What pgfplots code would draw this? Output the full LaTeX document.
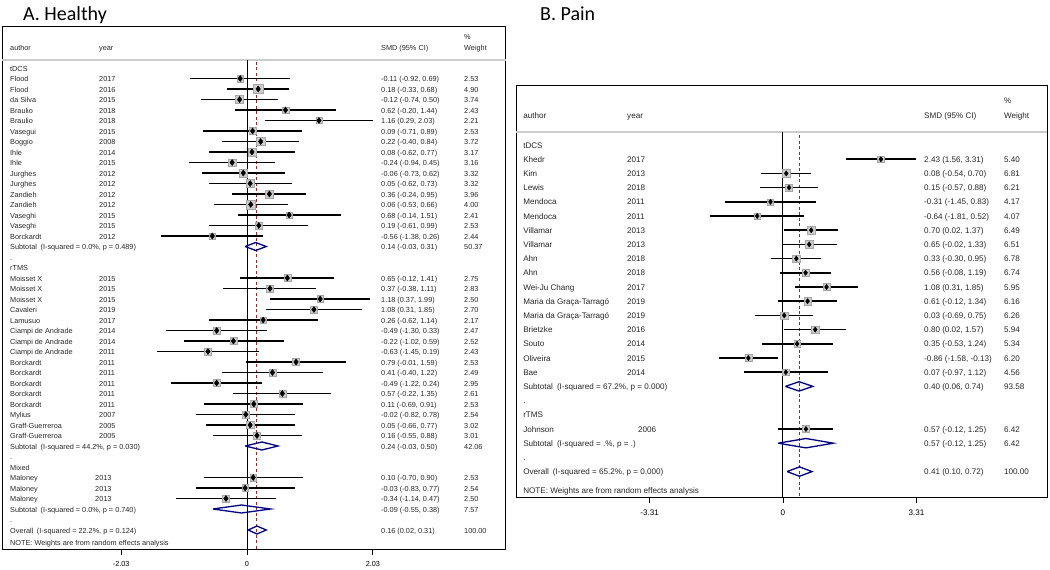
\documentclass[border=0pt]{standalone}
\usepackage{fontspec}
\setmainfont{Liberation Sans}
\newfontfamily\titlefont{Carlito}
\usepackage{pgfplots}
\pgfplotsset{compat=1.18}
\usepackage{pgfplotstable}

\definecolor{navy}{RGB}{0,0,128}
\definecolor{refred}{RGB}{165,35,35}
\newcommand{\fA}{\fontsize{7.3}{8.5}\selectfont}
\newcommand{\fB}{\fontsize{8.1}{9.5}\selectfont}

% Panel A: row, estimate, lower, upper, weight
\pgfplotstableread{
row est lo hi w
2 -0.11 -0.92 0.69 2.53
3 0.18 -0.33 0.68 4.90
4 -0.12 -0.74 0.50 3.74
5 0.62 -0.20 1.44 2.43
6 1.16 0.29 2.03 2.21
7 0.09 -0.71 0.89 2.53
8 0.22 -0.40 0.84 3.72
9 0.08 -0.62 0.77 3.17
10 -0.24 -0.94 0.45 3.16
11 -0.06 -0.73 0.62 3.32
12 0.05 -0.62 0.73 3.32
13 0.36 -0.24 0.95 3.96
14 0.06 -0.53 0.66 4.00
15 0.68 -0.14 1.51 2.41
16 0.19 -0.61 0.99 2.53
17 -0.56 -1.38 0.26 2.44
21 0.65 -0.12 1.41 2.75
22 0.37 -0.38 1.11 2.83
23 1.18 0.37 1.99 2.50
24 1.08 0.31 1.85 2.70
25 0.26 -0.62 1.14 2.17
26 -0.49 -1.30 0.33 2.47
27 -0.22 -1.02 0.59 2.52
28 -0.63 -1.45 0.19 2.43
29 0.79 -0.01 1.59 2.53
30 0.41 -0.40 1.22 2.49
31 -0.49 -1.22 0.24 2.95
32 0.57 -0.22 1.35 2.61
33 0.11 -0.69 0.91 2.53
34 -0.02 -0.82 0.78 2.54
35 0.05 -0.66 0.77 3.02
36 0.16 -0.55 0.88 3.01
40 0.10 -0.70 0.90 2.53
41 -0.03 -0.83 0.77 2.54
42 -0.34 -1.14 0.47 2.50
}\studiesA

% Panel B
\pgfplotstableread{
row est lo hi w
2 2.43 1.56 3.31 5.40
3 0.08 -0.54 0.70 6.81
4 0.15 -0.57 0.88 6.21
5 -0.31 -1.45 0.83 4.17
6 -0.64 -1.81 0.52 4.07
7 0.70 0.02 1.37 6.49
8 0.65 -0.02 1.33 6.51
9 0.33 -0.30 0.95 6.78
10 0.56 -0.08 1.19 6.74
11 1.08 0.31 1.85 5.95
12 0.61 -0.12 1.34 6.16
13 0.03 -0.69 0.75 6.26
14 0.80 0.02 1.57 5.94
15 0.35 -0.53 1.24 5.34
16 -0.86 -1.58 -0.13 6.20
17 0.07 -0.97 1.12 4.56
21 0.57 -0.12 1.25 6.42
}\studiesB

\tikzset{txt/.style={anchor=west,inner sep=0pt,text height=0.62em,text depth=0pt,text=black!85}}

\newcommand{\TA}[5]{%
 \node[txt,font=\fA] at (axis cs:-3.823,#1) {#2};
 \node[txt,font=\fA] at (axis cs:-2.387,#1) {#3};
 \node[txt,font=\fA] at (axis cs:2.161,#1) {#4};
 \node[txt,font=\fA] at (axis cs:3.50,#1) {#5};}
\newcommand{\TB}[5]{%
 \node[txt,font=\fB] at (axis cs:-6.45,#1) {#2};
 \node[txt,font=\fB] at (axis cs:-3.87,#1) {#3};
 \node[txt,font=\fB] at (axis cs:3.50,#1) {#4};
 \node[txt,font=\fB] at (axis cs:5.48,#1) {#5};}

\begin{document}
\begin{tikzpicture}
\useasboundingbox (0,0) rectangle (1050pt,570pt);
\node[anchor=base west,inner sep=0pt,font=\titlefont\fontsize{20}{24}\selectfont] at (23pt,549pt) {A. Healthy};
\node[anchor=base west,inner sep=0pt,font=\titlefont\fontsize{20}{24}\selectfont] at (540pt,549pt) {B. Pain};

% ================= Panel A =================
\begin{axis}[
 at={(2pt,21pt)}, anchor=south west, scale only axis,
 width=504pt, height=522pt,
 xmin=-3.952, xmax=4.177, ymin=-2.905, ymax=46.81, y dir=reverse,
 xtick={-2.03,0,2.03}, xticklabels={-2.03,0,2.03},
 xtick pos=left, tick align=outside, major tick length=6pt,
 ytick=\empty,
 tick style={black,line width=0.9pt},
 axis line style={line width=1pt},
 xticklabel style={font=\fA,yshift=-3pt},
 clip=false,
]
\draw[gray!40,line width=1.8pt] (axis cs:-3.952,0.24) -- (axis cs:4.177,0.24);
\addplot[black,line width=1pt] coordinates {(0,0.24) (0,46.81)};
\addplot[refred,line width=1pt,dash pattern=on 3pt off 2.5pt] coordinates {(0.16,0.4) (0.16,46.81)};
\addplot[scatter, only marks, mark=square*,
  scatter/use mapped color={draw=gray!70,fill=gray!40},
  visualization depends on={2.1*sqrt(\thisrow{w}) \as \msz},
  scatter/@pre marker code/.append style={/tikz/mark size=\msz}]
  table[x=est,y=row] {\studiesA};
\addplot[draw=none, mark=none,
  error bars/.cd, x dir=both, x explicit, error mark=none,
  error bar style={line width=1.8pt,black}]
  table[x=est,y=row,
   x error plus expr=\thisrow{hi}-\thisrow{est},
   x error minus expr=\thisrow{est}-\thisrow{lo}] {\studiesA};
\addplot[only marks, mark=diamond*, mark size=3pt, black] table[x=est,y=row] {\studiesA};
% pooled diamonds
\addplot[navy,line width=1.3pt] coordinates {(-0.03,18) (0.14,17.62) (0.31,18) (0.14,18.38) (-0.03,18)};
\addplot[navy,line width=1.3pt] coordinates {(-0.03,37) (0.24,36.62) (0.50,37) (0.24,37.38) (-0.03,37)};
\addplot[navy,line width=1.3pt] coordinates {(-0.55,43) (-0.09,42.62) (0.38,43) (-0.09,43.38) (-0.55,43)};
\addplot[navy,line width=1.3pt] coordinates {(0.02,45) (0.16,44.62) (0.31,45) (0.16,45.38) (0.02,45)};
% header
\node[txt,font=\fA] at (axis cs:-3.823,-0.95) {author};
\node[txt,font=\fA] at (axis cs:-2.387,-0.95) {year};
\node[txt,font=\fA] at (axis cs:2.161,-0.95) {SMD (95\% CI)};
\node[txt,font=\fA] at (axis cs:3.50,-2.05) {\%};
\node[txt,font=\fA] at (axis cs:3.50,-0.95) {Weight};
% rows
\TA{1}{tDCS}{}{}{}
\TA{2}{Flood}{2017}{-0.11 (-0.92, 0.69)}{2.53}
\TA{3}{Flood}{2016}{0.18 (-0.33, 0.68)}{4.90}
\TA{4}{da Silva}{2015}{-0.12 (-0.74, 0.50)}{3.74}
\TA{5}{Braulio}{2018}{0.62 (-0.20, 1.44)}{2.43}
\TA{6}{Braulio}{2018}{1.16 (0.29, 2.03)}{2.21}
\TA{7}{Vasegui}{2015}{0.09 (-0.71, 0.89)}{2.53}
\TA{8}{Boggio}{2008}{0.22 (-0.40, 0.84)}{3.72}
\TA{9}{Ihle}{2014}{0.08 (-0.62, 0.77)}{3.17}
\TA{10}{Ihle}{2015}{-0.24 (-0.94, 0.45)}{3.16}
\TA{11}{Jurghes}{2012}{-0.06 (-0.73, 0.62)}{3.32}
\TA{12}{Jurghes}{2012}{0.05 (-0.62, 0.73)}{3.32}
\TA{13}{Zandieh}{2012}{0.36 (-0.24, 0.95)}{3.96}
\TA{14}{Zandieh}{2012}{0.06 (-0.53, 0.66)}{4.00}
\TA{15}{Vaseghi}{2015}{0.68 (-0.14, 1.51)}{2.41}
\TA{16}{Vaseghi}{2015}{0.19 (-0.61, 0.99)}{2.53}
\TA{17}{Borckardt}{2012}{-0.56 (-1.38, 0.26)}{2.44}
\TA{18}{Subtotal\hspace{0.5em}(I-squared = 0.0\%, p = 0.489)}{}{0.14 (-0.03, 0.31)}{50.37}
\TA{19}{.}{}{}{}
\TA{20}{rTMS}{}{}{}
\TA{21}{Moisset X}{2015}{0.65 (-0.12, 1.41)}{2.75}
\TA{22}{Moisset X}{2015}{0.37 (-0.38, 1.11)}{2.83}
\TA{23}{Moisset X}{2015}{1.18 (0.37, 1.99)}{2.50}
\TA{24}{Cavaleri}{2019}{1.08 (0.31, 1.85)}{2.70}
\TA{25}{Lamusuo}{2017}{0.26 (-0.62, 1.14)}{2.17}
\TA{26}{Ciampi de Andrade}{2014}{-0.49 (-1.30, 0.33)}{2.47}
\TA{27}{Ciampi de Andrade}{2014}{-0.22 (-1.02, 0.59)}{2.52}
\TA{28}{Ciampi de Andrade}{2011}{-0.63 (-1.45, 0.19)}{2.43}
\TA{29}{Borckardt}{2011}{0.79 (-0.01, 1.59)}{2.53}
\TA{30}{Borckardt}{2011}{0.41 (-0.40, 1.22)}{2.49}
\TA{31}{Borckardt}{2011}{-0.49 (-1.22, 0.24)}{2.95}
\TA{32}{Borckardt}{2011}{0.57 (-0.22, 1.35)}{2.61}
\TA{33}{Borckardt}{2011}{0.11 (-0.69, 0.91)}{2.53}
\TA{34}{Mylius}{2007}{-0.02 (-0.82, 0.78)}{2.54}
\TA{35}{Graff-Guerreroa}{2005}{0.05 (-0.66, 0.77)}{3.02}
\TA{36}{Graff-Guerreroa}{2005}{0.16 (-0.55, 0.88)}{3.01}
\TA{37}{Subtotal\hspace{0.5em}(I-squared = 44.2\%, p = 0.030)}{}{0.24 (-0.03, 0.50)}{42.06}
\TA{38}{.}{}{}{}
\TA{39}{Mixed}{}{}{}
\node[txt,font=\fA] at (axis cs:-3.823,40) {Maloney};
\node[txt,font=\fA] at (axis cs:-2.452,40) {2013};
\node[txt,font=\fA] at (axis cs:2.161,40) {0.10 (-0.70, 0.90)};
\node[txt,font=\fA] at (axis cs:3.50,40) {2.53};
\node[txt,font=\fA] at (axis cs:-3.823,41) {Maloney};
\node[txt,font=\fA] at (axis cs:-2.452,41) {2013};
\node[txt,font=\fA] at (axis cs:2.161,41) {-0.03 (-0.83, 0.77)};
\node[txt,font=\fA] at (axis cs:3.50,41) {2.54};
\node[txt,font=\fA] at (axis cs:-3.823,42) {Maloney};
\node[txt,font=\fA] at (axis cs:-2.452,42) {2013};
\node[txt,font=\fA] at (axis cs:2.161,42) {-0.34 (-1.14, 0.47)};
\node[txt,font=\fA] at (axis cs:3.50,42) {2.50};
\TA{43}{Subtotal\hspace{0.5em}(I-squared = 0.0\%, p = 0.740)}{}{-0.09 (-0.55, 0.38)}{7.57}
\TA{44}{.}{}{}{}
\TA{45}{Overall\hspace{0.5em}(I-squared = 22.2\%, p = 0.124)}{}{0.16 (0.02, 0.31)}{100.00}
\node[txt,font=\fA] at (axis cs:-3.823,46.2) {NOTE: Weights are from random effects analysis};
\end{axis}

% ================= Panel B =================
\begin{axis}[
 at={(516pt,73pt)}, anchor=south west, scale only axis,
 width=531pt, height=411pt,
 xmin=-6.625, xmax=6.551, ymin=-3.155, ymax=25.79, y dir=reverse,
 xtick={-3.31,0,3.31}, xticklabels={-3.31,0,3.31},
 xtick pos=left, tick align=outside, major tick length=6pt,
 ytick=\empty,
 tick style={black,line width=0.9pt},
 axis line style={line width=1pt},
 xticklabel style={font=\fB,yshift=-3pt},
 clip=false,
]
\draw[gray!40,line width=1.8pt] (axis cs:-6.625,0.085) -- (axis cs:6.551,0.085);
\addplot[black,line width=1pt] coordinates {(0,0.085) (0,25.79)};
\addplot[refred,line width=1pt,dash pattern=on 3pt off 2.5pt] coordinates {(0.41,0.3) (0.41,25.79)};
\addplot[scatter, only marks, mark=square*,
  scatter/use mapped color={draw=gray!70,fill=gray!40},
  visualization depends on={1.46*sqrt(\thisrow{w}) \as \msz},
  scatter/@pre marker code/.append style={/tikz/mark size=\msz}]
  table[x=est,y=row] {\studiesB};
\addplot[draw=none, mark=none,
  error bars/.cd, x dir=both, x explicit, error mark=none,
  error bar style={line width=1.5pt,black}]
  table[x=est,y=row,
   x error plus expr=\thisrow{hi}-\thisrow{est},
   x error minus expr=\thisrow{est}-\thisrow{lo}] {\studiesB};
\addplot[only marks, mark=diamond*, mark size=2.6pt, black] table[x=est,y=row] {\studiesB};
\addplot[navy,line width=1.3pt] coordinates {(0.06,18) (0.40,17.67) (0.74,18) (0.40,18.33) (0.06,18)};
\addplot[navy,line width=1.3pt] coordinates {(-0.12,22) (0.57,21.67) (1.25,22) (0.57,22.33) (-0.12,22)};
\addplot[navy,line width=1.3pt] coordinates {(0.10,24) (0.41,23.67) (0.72,24) (0.41,24.33) (0.10,24)};
% header
\node[txt,font=\fB] at (axis cs:-6.45,-1.11) {author};
\node[txt,font=\fB] at (axis cs:-3.87,-1.11) {year};
\node[txt,font=\fB] at (axis cs:3.50,-1.11) {SMD (95\% CI)};
\node[txt,font=\fB] at (axis cs:5.48,-2.17) {\%};
\node[txt,font=\fB] at (axis cs:5.48,-1.11) {Weight};
\TB{1}{tDCS}{}{}{}
\TB{2}{Khedr}{2017}{2.43 (1.56, 3.31)}{5.40}
\TB{3}{Kim}{2013}{0.08 (-0.54, 0.70)}{6.81}
\TB{4}{Lewis}{2018}{0.15 (-0.57, 0.88)}{6.21}
\TB{5}{Mendoca}{2011}{-0.31 (-1.45, 0.83)}{4.17}
\TB{6}{Mendoca}{2011}{-0.64 (-1.81, 0.52)}{4.07}
\TB{7}{Villamar}{2013}{0.70 (0.02, 1.37)}{6.49}
\TB{8}{Villamar}{2013}{0.65 (-0.02, 1.33)}{6.51}
\TB{9}{Ahn}{2018}{0.33 (-0.30, 0.95)}{6.78}
\TB{10}{Ahn}{2018}{0.56 (-0.08, 1.19)}{6.74}
\TB{11}{Wei-Ju Chang}{2017}{1.08 (0.31, 1.85)}{5.95}
\TB{12}{Maria da Graça-Tarragó}{2019}{0.61 (-0.12, 1.34)}{6.16}
\TB{13}{Maria da Graça-Tarragó}{2019}{0.03 (-0.69, 0.75)}{6.26}
\TB{14}{Brietzke}{2016}{0.80 (0.02, 1.57)}{5.94}
\TB{15}{Souto}{2014}{0.35 (-0.53, 1.24)}{5.34}
\TB{16}{Oliveira}{2015}{-0.86 (-1.58, -0.13)}{6.20}
\TB{17}{Bae}{2014}{0.07 (-0.97, 1.12)}{4.56}
\TB{18}{Subtotal\hspace{0.5em}(I-squared = 67.2\%, p = 0.000)}{}{0.40 (0.06, 0.74)}{93.58}
\TB{19}{.}{}{}{}
\TB{20}{rTMS}{}{}{}
\node[txt,font=\fB] at (axis cs:-6.45,21) {Johnson};
\node[txt,font=\fB] at (axis cs:-3.60,21) {2006};
\node[txt,font=\fB] at (axis cs:3.50,21) {0.57 (-0.12, 1.25)};
\node[txt,font=\fB] at (axis cs:5.48,21) {6.42};
\TB{22}{Subtotal\hspace{0.5em}(I-squared = .\%, p = .)}{}{0.57 (-0.12, 1.25)}{6.42}
\TB{23}{.}{}{}{}
\TB{24}{Overall\hspace{0.5em}(I-squared = 65.2\%, p = 0.000)}{}{0.41 (0.10, 0.72)}{100.00}
\node[txt,font=\fB] at (axis cs:-6.45,25.3) {NOTE: Weights are from random effects analysis};
\end{axis}
\end{tikzpicture}
\end{document}
